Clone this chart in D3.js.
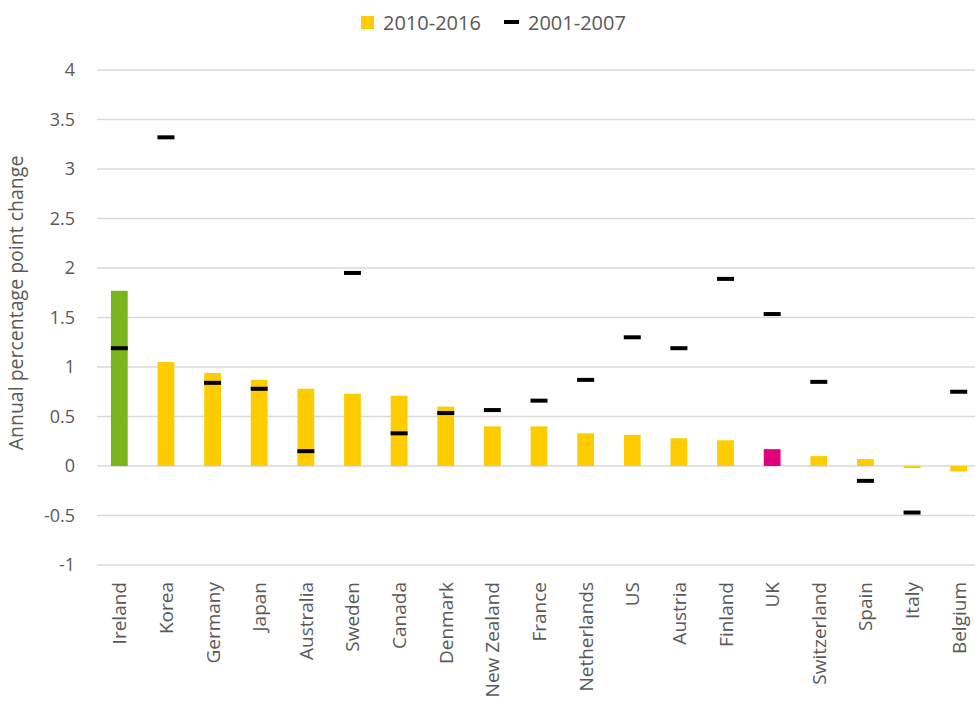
<!DOCTYPE html>
<html>
<head>
<meta charset="utf-8">
<script src="https://cdn.jsdelivr.net/npm/d3@7"></script>
<style>
  body { margin: 0; background: #fff; }
  text { font-family: "Open Sans", "Noto Sans", sans-serif; fill: #595959; }
</style>
</head>
<body>
<svg id="chart" width="975" height="711"></svg>
<script>
var countries = ["Ireland", "Korea", "Germany", "Japan", "Australia", "Sweden", "Canada", "Denmark",
    "New Zealand", "France", "Netherlands", "US", "Austria", "Finland", "UK", "Switzerland", "Spain", "Italy", "Belgium"];
var recent = [1.77, 1.05, 0.94, 0.87, 0.78, 0.73, 0.71, 0.60, 0.40, 0.40, 0.33, 0.315, 0.28, 0.26, 0.17, 0.10, 0.07, -0.02, -0.055];
var earlier = [1.19, 3.32, 0.84, 0.78, 0.15, 1.95, 0.33, 0.535, 0.565, 0.66, 0.87, 1.30, 1.19, 1.89, 1.535, 0.85, -0.15, -0.47, 0.75];
var yTicks = [-1, -0.5, 0, 0.5, 1, 1.5, 2, 2.5, 3, 3.5, 4];
var legendLabels = ["2010-2016", "2001-2007"];

var yellow = "#FFCC00";
var highlight = { "Ireland": "#7AB51D", "UK": "#E2007A" };

var svg = d3.select("#chart");

var x = d3.scaleBand()
    .domain(countries)
    .range([96, 982])
    .paddingInner(0.64)
    .paddingOuter(0.32);

var y = d3.scaleLinear()
    .domain([-1, 4])
    .range([565, 70]);

// gridlines
svg.append("g")
    .selectAll("line")
    .data(yTicks)
    .enter().append("line")
    .attr("x1", 97)
    .attr("x2", 975)
    .attr("y1", function (d) { return y(d); })
    .attr("y2", function (d) { return y(d); })
    .attr("stroke", "#D9D9D9")
    .attr("stroke-width", 1.5);

// y tick labels
svg.append("g")
    .selectAll("text")
    .data(yTicks)
    .enter().append("text")
    .attr("x", 75)
    .attr("y", function (d) { return y(d); })
    .attr("dy", "0.35em")
    .attr("text-anchor", "end")
    .attr("font-size", 18)
    .text(function (d) { return d3.format("")(d).replace("−", "-"); });

// y axis title
svg.append("text")
    .attr("transform", "translate(23,303) rotate(-90)")
    .attr("text-anchor", "middle")
    .attr("font-size", 19.5)
    .text("Annual percentage point change");

// bars
svg.append("g")
    .selectAll("rect")
    .data(countries)
    .enter().append("rect")
    .attr("x", function (d) { return x(d); })
    .attr("width", x.bandwidth())
    .attr("y", function (d, i) { return y(Math.max(0, recent[i])); })
    .attr("height", function (d, i) { return Math.abs(y(recent[i]) - y(0)); })
    .attr("fill", function (d) { return highlight[d] || yellow; });

// 2001-2007 markers
var markW = 17;
svg.append("g")
    .selectAll("rect")
    .data(countries)
    .enter().append("rect")
    .attr("x", function (d) { return x(d) + x.bandwidth() / 2 - markW / 2; })
    .attr("width", markW)
    .attr("y", function (d, i) { return y(earlier[i]) - 2; })
    .attr("height", 4)
    .attr("fill", "#000");

// category labels
svg.append("g")
    .selectAll("text")
    .data(countries)
    .enter().append("text")
    .attr("transform", function (d) {
        return "translate(" + (x(d) + x.bandwidth() / 2 + 7) + ",582) rotate(-90)";
    })
    .attr("text-anchor", "end")
    .attr("font-size", 19)
    .text(function (d) { return d; });

// legend
var legend = svg.append("g");
legend.append("rect")
    .attr("x", 361).attr("y", 16)
    .attr("width", 13).attr("height", 13)
    .attr("fill", yellow);
legend.append("text")
    .attr("x", 383).attr("y", 30)
    .attr("font-size", 20)
    .text(legendLabels[0]);
legend.append("rect")
    .attr("x", 504).attr("y", 20)
    .attr("width", 15).attr("height", 4)
    .attr("fill", "#000");
legend.append("text")
    .attr("x", 528).attr("y", 30)
    .attr("font-size", 20)
    .text(legendLabels[1]);
</script>
</body>
</html>
